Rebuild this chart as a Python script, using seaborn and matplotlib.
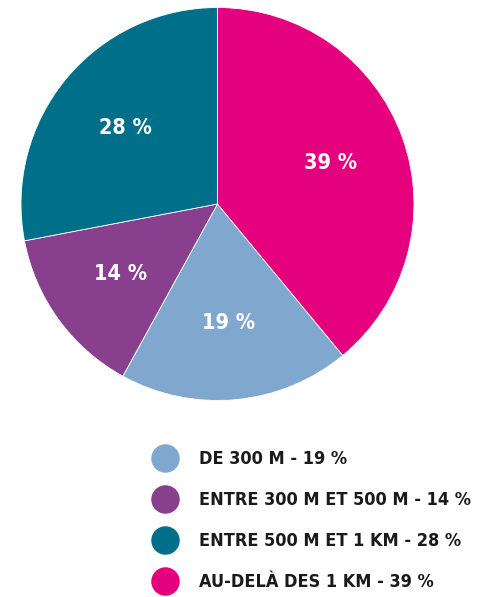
import matplotlib
matplotlib.use("Agg")
import matplotlib.pyplot as plt
from matplotlib.lines import Line2D
import seaborn as sns

# data (legend order)
categories = ['DE 300 M', 'ENTRE 300 M ET 500 M', 'ENTRE 500 M ET 1 KM', 'AU-DELÀ DES 1 KM']
shares = [19, 14, 28, 39]
colors = ['#80A8CE', '#873F8E', '#00708A', '#E5007E']

sns.set_theme(style='white')
plt.rcParams['font.family'] = ['DejaVu Sans']
plt.rcParams['font.stretch'] = 'condensed'

fig = plt.figure(figsize=(4.86, 5.97), dpi=100)
ax = fig.add_axes([0, 0, 1, 1])

# pink slice starts at 12 o'clock, going clockwise
start = 90 - shares[-1] / sum(shares) * 360
wedges, texts, autotexts = ax.pie(
    shares, colors=colors, startangle=start, counterclock=False,
    center=(217.5, 393), radius=196.5, frame=True,
    autopct=lambda p: f'{p:.0f} %', pctdistance=0.61,
    wedgeprops=dict(linewidth=0.6, edgecolor='white'),
    textprops=dict(color='white', fontsize=15.5, fontweight='bold', fontstretch='condensed'))
ax.set_xlim(0, 486)
ax.set_ylim(0, 597)
ax.set_aspect('equal')
ax.axis('off')

handles = [Line2D([], [], marker='o', linestyle='', markersize=19.5,
                  markerfacecolor=c, markeredgecolor=c) for c in colors]
labels = [f'{c} - {s} %' for c, s in zip(categories, shares)]
leg = fig.legend(handles, labels, loc='upper left', bbox_to_anchor=(0.31, 0.246),
                 frameon=False, borderpad=0, borderaxespad=0,
                 handlelength=1.6, handletextpad=1.1, labelspacing=1.27,
                 prop=dict(size=13, weight='bold', stretch='condensed'))
for t in leg.get_texts():
    t.set_color('#1a1a1a')

fig.savefig('out.png', dpi=100)
